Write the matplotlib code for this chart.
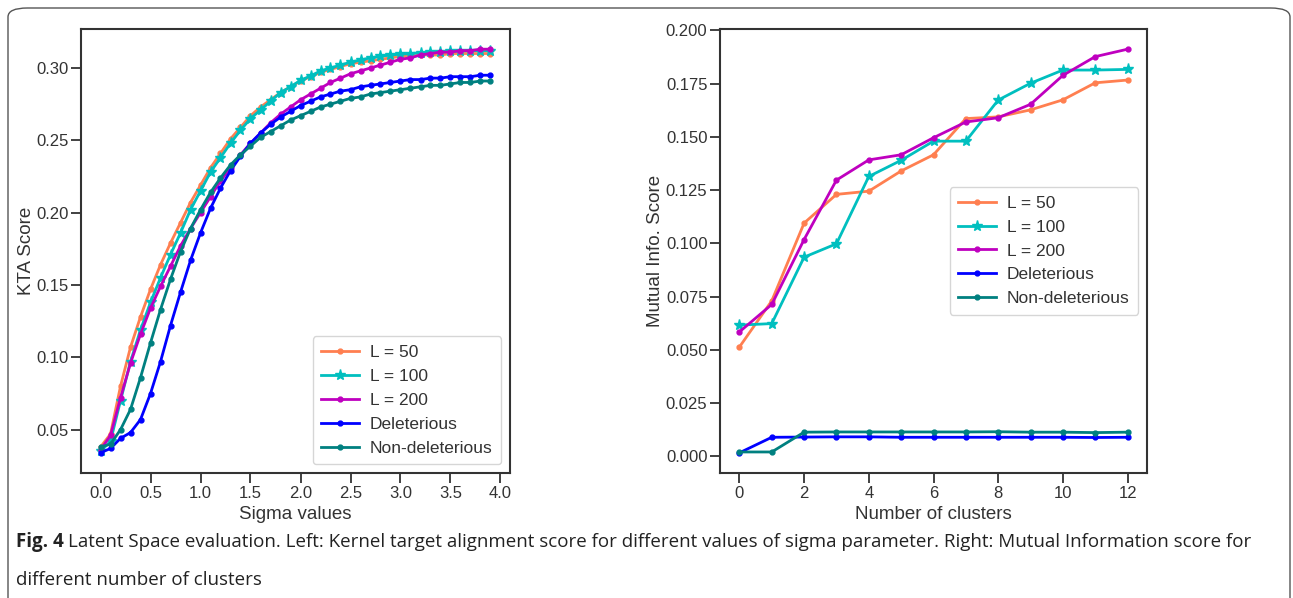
import numpy as np
import matplotlib
matplotlib.use("Agg")
import matplotlib.pyplot as plt
from matplotlib.patches import FancyBboxPatch
from matplotlib.ticker import FormatStrFormatter

# ---- left panel: KTA score vs sigma ----
sigma = np.round(np.arange(0, 4.0, 0.1), 1)

kta_l50 = [0.038, 0.047, 0.080, 0.107, 0.128, 0.147, 0.164, 0.179, 0.193, 0.207,
           0.219, 0.231, 0.241, 0.251, 0.259, 0.267, 0.273, 0.278, 0.283, 0.287,
           0.291, 0.294, 0.297, 0.299, 0.301, 0.303, 0.304, 0.305, 0.306, 0.307,
           0.308, 0.308, 0.309, 0.309, 0.309, 0.310, 0.310, 0.310, 0.310, 0.310]
kta_l100 = [0.035, 0.042, 0.070, 0.097, 0.119, 0.138, 0.155, 0.171, 0.186, 0.202,
            0.215, 0.228, 0.238, 0.248, 0.257, 0.265, 0.271, 0.277, 0.283, 0.287,
            0.2915, 0.2945, 0.298, 0.300, 0.302, 0.304, 0.3055, 0.307, 0.308, 0.309,
            0.3095, 0.310, 0.3105, 0.311, 0.311, 0.3115, 0.3117, 0.312, 0.312, 0.312]
kta_l200 = [0.036, 0.046, 0.072, 0.096, 0.116, 0.134, 0.149, 0.163, 0.177, 0.189,
            0.200, 0.211, 0.222, 0.231, 0.240, 0.248, 0.255, 0.262, 0.268, 0.273,
            0.278, 0.282, 0.286, 0.290, 0.293, 0.296, 0.298, 0.300, 0.302, 0.304,
            0.306, 0.307, 0.309, 0.310, 0.311, 0.311, 0.312, 0.312, 0.313, 0.313]
kta_del = [0.034, 0.037, 0.044, 0.048, 0.057, 0.075, 0.097, 0.122, 0.145, 0.167,
           0.186, 0.203, 0.217, 0.229, 0.239, 0.248, 0.255, 0.261, 0.266, 0.270,
           0.274, 0.277, 0.280, 0.282, 0.284, 0.285, 0.287, 0.288, 0.289, 0.290,
           0.291, 0.292, 0.292, 0.293, 0.293, 0.294, 0.294, 0.294, 0.295, 0.295]
kta_nondel = [0.038, 0.040, 0.050, 0.064, 0.086, 0.110, 0.133, 0.154, 0.173, 0.189,
              0.202, 0.214, 0.224, 0.233, 0.240, 0.246, 0.252, 0.256, 0.260, 0.264,
              0.267, 0.270, 0.273, 0.275, 0.277, 0.279, 0.280, 0.282, 0.283, 0.284,
              0.285, 0.286, 0.287, 0.288, 0.288, 0.289, 0.290, 0.290, 0.291, 0.291]

# ---- right panel: mutual info vs number of clusters ----
clusters = np.arange(0, 13)

mi_l50 = [0.0513, 0.073, 0.1095, 0.123, 0.1245, 0.134, 0.1416, 0.1586, 0.1594,
          0.1627, 0.1674, 0.1754, 0.1767]
mi_l100 = [0.0616, 0.0623, 0.0935, 0.0998, 0.1314, 0.139, 0.148, 0.148, 0.1673,
           0.1752, 0.1814, 0.1814, 0.1817]
mi_l200 = [0.0584, 0.0713, 0.1018, 0.1297, 0.1392, 0.1416, 0.1496, 0.157, 0.159,
           0.1653, 0.1789, 0.1877, 0.1912]
mi_del = [0.0016, 0.0089, 0.0090, 0.0091, 0.0091, 0.0089, 0.0089, 0.0089, 0.0089,
          0.0089, 0.0089, 0.0088, 0.0089]
mi_nondel = [0.0020, 0.0020, 0.0113, 0.0114, 0.0114, 0.0114, 0.0114, 0.0114, 0.0115,
             0.0113, 0.0113, 0.0111, 0.0113]

labels = ["L = 50", "L = 100", "L = 200", "Deleterious", "Non-deleterious"]
colors = ["coral", "c", "m", "b", "teal"]
markers = [".", "*", ".", ".", "."]

plt.rcParams['font.family'] = ['Liberation Sans', 'DejaVu Sans']
plt.rcParams['axes.edgecolor'] = '#333333'
plt.rcParams['xtick.color'] = '#333333'
plt.rcParams['ytick.color'] = '#333333'
plt.rcParams['text.color'] = '#333333'
plt.rcParams['axes.labelcolor'] = '#333333'

fig = plt.figure(figsize=(12.93, 5.98), dpi=100)

# rounded frame around the figure (bottom edge falls outside the canvas)
frame = FancyBboxPatch((8 / 1293, -0.05), 1282 / 1293, 1.05 - 8 / 598,
                       boxstyle="round,pad=0,rounding_size=0.015",
                       transform=fig.transFigure, fill=False,
                       edgecolor='#555555', linewidth=1.0)
fig.patches.append(frame)

ax1 = fig.add_axes([81 / 1293, 1 - 473 / 598, 429 / 1293, 444 / 598])
ax2 = fig.add_axes([720 / 1293, 1 - 473 / 598, 427 / 1293, 444 / 598])


def draw_panel(ax, x, series, xlabel, ylabel, ylab_x):
    for y, lab, col, mk in zip(series, labels, colors, markers):
        ms = 8 if mk == "*" else 7
        ax.plot(x, y, color=col, marker=mk, markersize=ms, linewidth=2, label=lab)
    ax.set_xlabel(xlabel, fontsize=13.5, labelpad=4)
    ax.set_ylabel(ylabel, fontsize=13.5)
    ax.yaxis.set_label_coords(ylab_x, 0.5)
    ax.tick_params(direction='out', length=7, width=1.3, labelsize=12, pad=2)
    for sp in ax.spines.values():
        sp.set_linewidth(1.5)


draw_panel(ax1, sigma, [kta_l50, kta_l100, kta_l200, kta_del, kta_nondel],
           "Sigma values", "KTA Score", -0.107)
ax1.set_xticks(np.arange(0, 4.01, 0.5))
ax1.set_yticks([0.05, 0.10, 0.15, 0.20, 0.25, 0.30])
ax1.yaxis.set_major_formatter(FormatStrFormatter('%.2f'))
ax1.xaxis.set_major_formatter(FormatStrFormatter('%.1f'))
ax1.legend(loc='lower right', fontsize=12.5, frameon=True, framealpha=0.8,
           edgecolor='#cccccc', handlelength=2.2, borderpad=0.5, labelspacing=0.5,
           handletextpad=0.6)

draw_panel(ax2, clusters, [mi_l50, mi_l100, mi_l200, mi_del, mi_nondel],
           "Number of clusters", "Mutual Info. Score", -0.132)
ax2.set_xticks(np.arange(0, 13, 2))
ax2.set_yticks(np.arange(0, 0.201, 0.025))
ax2.yaxis.set_major_formatter(FormatStrFormatter('%.3f'))
ax2.legend(loc='center right', fontsize=12.5, frameon=True, framealpha=0.8,
           edgecolor='#cccccc', handlelength=2.2, borderpad=0.5, labelspacing=0.5,
           handletextpad=0.6)

# caption
cap_font = ['Open Sans', 'DejaVu Sans']
cap_y1 = 1 - 542 / 598
cap_y2 = 1 - 580 / 598
bold = fig.text(16 / 1293, cap_y1, "Fig. 4", fontsize=13.5, fontweight='bold',
                family=cap_font, color='#222222', va='center')
fig.canvas.draw()
bb = bold.get_window_extent(renderer=fig.canvas.get_renderer())
fig.text((bb.x1 + 4) / fig.bbox.width, cap_y1,
         "Latent Space evaluation. Left: Kernel target alignment score for different "
         "values of sigma parameter. Right: Mutual Information score for",
         fontsize=13.5, family=cap_font, color='#222222', va='center')
fig.text(16 / 1293, cap_y2, "different number of clusters",
         fontsize=13.5, family=cap_font, color='#222222', va='center')

fig.savefig("out.png", dpi=100)
